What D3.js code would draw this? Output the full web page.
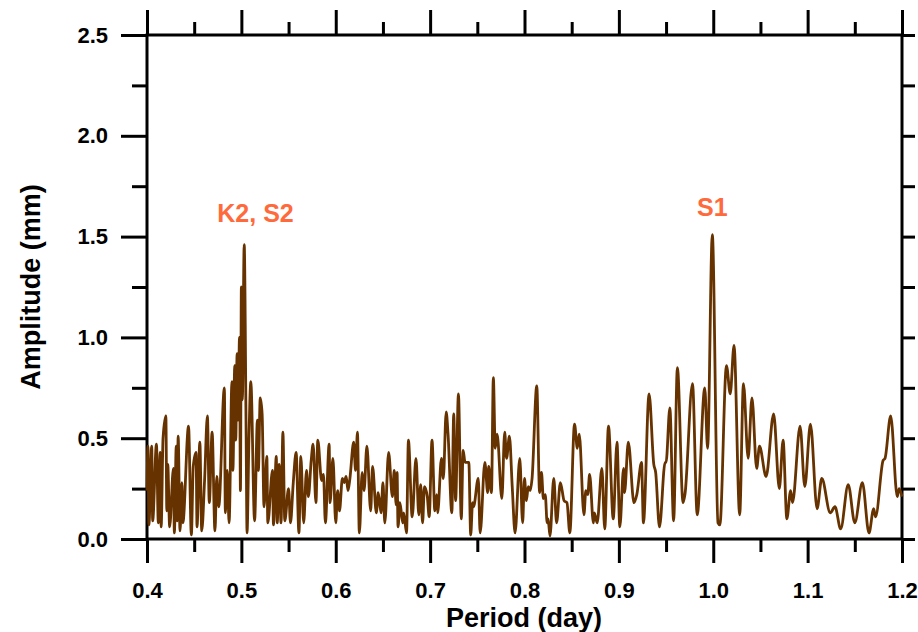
<!DOCTYPE html>
<html>
<head>
<meta charset="utf-8">
<script src="https://cdn.jsdelivr.net/npm/d3@7"></script>
<style>
  body { margin: 0; background: #fff; }
  svg { display: block; }
  .tick text { font-family: "Liberation Sans", Arial, sans-serif; font-weight: bold; }
</style>
</head>
<body>
<svg width="918" height="632"></svg>
<script>
// Period (day), one entry per turning point of the curve
const periods = [
  0.400, 0.401, 0.402, 0.405, 0.406, 0.410, 0.412, 0.414, 0.415, 0.417,
  0.420, 0.421, 0.422, 0.424, 0.428, 0.429, 0.431, 0.432, 0.433, 0.435,
  0.437, 0.438, 0.444, 0.447, 0.449, 0.452, 0.453, 0.456, 0.458, 0.461,
  0.464, 0.466, 0.469, 0.472, 0.474, 0.476, 0.482, 0.483, 0.485, 0.487,
  0.490, 0.491, 0.493, 0.494, 0.4955, 0.4966, 0.498, 0.499, 0.500, 0.501,
  0.503, 0.505, 0.506, 0.508, 0.510, 0.514, 0.517, 0.518, 0.520, 0.522,
  0.524, 0.527, 0.528, 0.533, 0.534, 0.537, 0.538, 0.540, 0.542, 0.544,
  0.546, 0.550, 0.552, 0.555, 0.558, 0.561, 0.563, 0.566, 0.569, 0.571,
  0.574, 0.576, 0.579, 0.581, 0.585, 0.587, 0.589, 0.593, 0.594, 0.597,
  0.600, 0.602, 0.604, 0.607, 0.609, 0.611, 0.613, 0.615, 0.619, 0.621,
  0.623, 0.625, 0.628, 0.630, 0.633, 0.637, 0.639, 0.643, 0.645, 0.648,
  0.650, 0.652, 0.656, 0.660, 0.662, 0.664, 0.665, 0.666, 0.668, 0.671,
  0.672, 0.675, 0.677, 0.681, 0.685, 0.688, 0.690, 0.692, 0.694, 0.697,
  0.699, 0.702, 0.705, 0.707, 0.708, 0.712, 0.714, 0.717, 0.719, 0.723,
  0.725, 0.727, 0.730, 0.733, 0.735, 0.737, 0.741, 0.743, 0.745, 0.746,
  0.751, 0.753, 0.758, 0.761, 0.762, 0.765, 0.767, 0.769, 0.771, 0.776,
  0.779, 0.781, 0.784, 0.787, 0.790, 0.795, 0.798, 0.800, 0.802, 0.804,
  0.806, 0.808, 0.813, 0.816, 0.818, 0.820, 0.822, 0.824, 0.825, 0.827,
  0.831, 0.834, 0.838, 0.842, 0.845, 0.848, 0.853, 0.856, 0.858, 0.863,
  0.865, 0.867, 0.869, 0.873, 0.874, 0.877, 0.882, 0.885, 0.889, 0.894,
  0.898, 0.901, 0.905, 0.906, 0.910, 0.916, 0.919, 0.924, 0.926, 0.932,
  0.937, 0.939, 0.943, 0.949, 0.950, 0.954, 0.958, 0.962, 0.968, 0.970,
  0.978, 0.983, 0.991, 0.994, 0.999, 1.005, 1.007, 1.014, 1.018, 1.022,
  1.028, 1.032, 1.037, 1.041, 1.046, 1.049, 1.056, 1.064, 1.070, 1.074,
  1.078, 1.082, 1.084, 1.092, 1.097, 1.103, 1.110, 1.115, 1.124, 1.129,
  1.135, 1.143, 1.150, 1.158, 1.165, 1.170, 1.172, 1.180, 1.182, 1.188,
  1.195, 1.197, 1.200
];

// Amplitude (mm) at each of those periods
const amplitudes = [
  0.24, 0.46, 0.07, 0.46, 0.09, 0.47, 0.08, 0.43, 0.06, 0.50,
  0.61, 0.14, 0.37, 0.06, 0.35, 0.03, 0.46, 0.09, 0.51, 0.04,
  0.28, 0.08, 0.56, 0.02, 0.36, 0.43, 0.06, 0.48, 0.04, 0.29,
  0.61, 0.18, 0.53, 0.04, 0.31, 0.16, 0.75, 0.13, 0.34, 0.08,
  0.78, 0.34, 0.86, 0.49, 0.92, 0.59, 1.00, 0.24, 1.25, 0.69,
  1.46, 0.54, 0.03, 0.49, 0.78, 0.09, 0.59, 0.34, 0.70, 0.62,
  0.16, 0.41, 0.08, 0.34, 0.07, 0.41, 0.08, 0.37, 0.08, 0.53,
  0.09, 0.25, 0.08, 0.28, 0.43, 0.03, 0.41, 0.08, 0.34, 0.21,
  0.39, 0.47, 0.18, 0.49, 0.29, 0.32, 0.08, 0.47, 0.18, 0.40,
  0.08, 0.24, 0.14, 0.30, 0.28, 0.31, 0.24, 0.30, 0.48, 0.34,
  0.53, 0.03, 0.33, 0.24, 0.46, 0.14, 0.36, 0.13, 0.23, 0.13,
  0.28, 0.08, 0.43, 0.21, 0.34, 0.17, 0.33, 0.06, 0.18, 0.08,
  0.13, 0.03, 0.49, 0.11, 0.40, 0.12, 0.27, 0.08, 0.26, 0.21,
  0.11, 0.49, 0.14, 0.22, 0.13, 0.40, 0.30, 0.63, 0.52, 0.13,
  0.62, 0.19, 0.72, 0.10, 0.44, 0.38, 0.38, 0.02, 0.18, 0.16,
  0.30, 0.03, 0.38, 0.23, 0.36, 0.23, 0.80, 0.45, 0.52, 0.20,
  0.53, 0.40, 0.51, 0.26, 0.03, 0.40, 0.08, 0.30, 0.19, 0.26,
  0.24, 0.30, 0.76, 0.23, 0.33, 0.20, 0.22, 0.08, 0.10, 0.015,
  0.30, 0.08, 0.28, 0.19, 0.18, 0.03, 0.57, 0.45, 0.52, 0.12,
  0.24, 0.22, 0.32, 0.08, 0.13, 0.08, 0.35, 0.05, 0.56, 0.10,
  0.48, 0.06, 0.35, 0.23, 0.48, 0.18, 0.22, 0.38, 0.08, 0.72,
  0.37, 0.33, 0.06, 0.38, 0.38, 0.65, 0.09, 0.85, 0.18, 0.22,
  0.77, 0.12, 0.75, 0.45, 1.51, 0.08, 0.07, 0.86, 0.72, 0.96,
  0.12, 0.77, 0.40, 0.70, 0.35, 0.46, 0.31, 0.62, 0.25, 0.49,
  0.10, 0.24, 0.18, 0.56, 0.26, 0.57, 0.15, 0.30, 0.13, 0.16,
  0.05, 0.27, 0.08, 0.28, 0.03, 0.15, 0.11, 0.39, 0.40, 0.61,
  0.21, 0.25, 0.21
];

const xMajor = [0.4, 0.5, 0.6, 0.7, 0.8, 0.9, 1.0, 1.1, 1.2];
const xMinor = [0.45, 0.55, 0.65, 0.75, 0.85, 0.95, 1.05, 1.15];
const yMajor = [0.0, 0.5, 1.0, 1.5, 2.0, 2.5];
const yMinor = [0.25, 0.75, 1.25, 1.75, 2.25];

// tidal constituents marked above their peaks
const peakLabels = ["K2, S2", "S1"];
const peakPeriods = [0.515, 0.999];
const peakHeights = [1.57, 1.60];

const svg = d3.select("svg");
const mLeft = 147, mRight = 902, mTop = 35, mBottom = 539;

const x = d3.scaleLinear().domain([0.4, 1.2]).range([mLeft, mRight]);
const y = d3.scaleLinear().domain([0, 2.5]).range([mBottom, mTop]);
const fmt = d3.format(".1f");

// bottom axis with labels
svg.append("g")
  .attr("transform", "translate(0," + mBottom + ")")
  .call(d3.axisBottom(x).tickValues(xMajor).tickSize(24).tickPadding(19).tickFormat(fmt));
svg.append("g")
  .attr("transform", "translate(0," + mBottom + ")")
  .call(d3.axisBottom(x).tickValues(xMinor).tickSize(13).tickFormat(""));

// top axis, ticks only
svg.append("g")
  .attr("transform", "translate(0," + mTop + ")")
  .call(d3.axisTop(x).tickValues(xMajor).tickSize(25).tickFormat(""));
svg.append("g")
  .attr("transform", "translate(0," + mTop + ")")
  .call(d3.axisTop(x).tickValues(xMinor).tickSize(13).tickFormat(""));

// left axis with labels
svg.append("g")
  .attr("transform", "translate(" + mLeft + ",0)")
  .call(d3.axisLeft(y).tickValues(yMajor).tickSize(26).tickPadding(13).tickFormat(fmt));
svg.append("g")
  .attr("transform", "translate(" + mLeft + ",0)")
  .call(d3.axisLeft(y).tickValues(yMinor).tickSize(15).tickFormat(""));

// right axis, short ticks only
svg.append("g")
  .attr("transform", "translate(" + mRight + ",0)")
  .call(d3.axisRight(y).tickValues(yMajor.concat(yMinor)).tickSize(13).tickFormat(""));

svg.selectAll(".domain").remove();
svg.selectAll(".tick line").attr("stroke", "#000").attr("stroke-width", 3);
svg.selectAll(".tick text").attr("font-size", 22).attr("fill", "#000");

// frame
svg.append("rect")
  .attr("x", mLeft).attr("y", mTop)
  .attr("width", mRight - mLeft).attr("height", mBottom - mTop)
  .attr("fill", "none").attr("stroke", "#000").attr("stroke-width", 3);

// the spectrum
const data = periods.map((p, i) => ({p: p, a: amplitudes[i]}));
const line = d3.line()
  .x(d => x(d.p))
  .y(d => y(d.a))
  .curve(d3.curveMonotoneX);

svg.append("path")
  .datum(data)
  .attr("fill", "none")
  .attr("stroke", "#663300")
  .attr("stroke-width", 2.8)
  .attr("stroke-linejoin", "round")
  .attr("d", line);

// peak labels
svg.selectAll(".peak")
  .data(peakLabels)
  .enter().append("text")
  .attr("class", "peak")
  .attr("x", (d, i) => x(peakPeriods[i]))
  .attr("y", (d, i) => y(peakHeights[i]))
  .attr("text-anchor", "middle")
  .attr("font-family", "Liberation Sans, Arial, sans-serif")
  .attr("font-weight", "bold")
  .attr("font-size", 25)
  .attr("fill", "#ff6a3d")
  .text(d => d);

// axis titles
svg.append("text")
  .attr("x", 524)
  .attr("y", 627)
  .attr("text-anchor", "middle")
  .attr("font-family", "Liberation Sans, Arial, sans-serif")
  .attr("font-weight", "bold")
  .attr("font-size", 27)
  .text("Period (day)");

svg.append("text")
  .attr("transform", "translate(40," + ((mTop + mBottom) / 2) + ") rotate(-90)")
  .attr("text-anchor", "middle")
  .attr("font-family", "Liberation Sans, Arial, sans-serif")
  .attr("font-weight", "bold")
  .attr("font-size", 27)
  .text("Amplitude (mm)");
</script>
</body>
</html>
